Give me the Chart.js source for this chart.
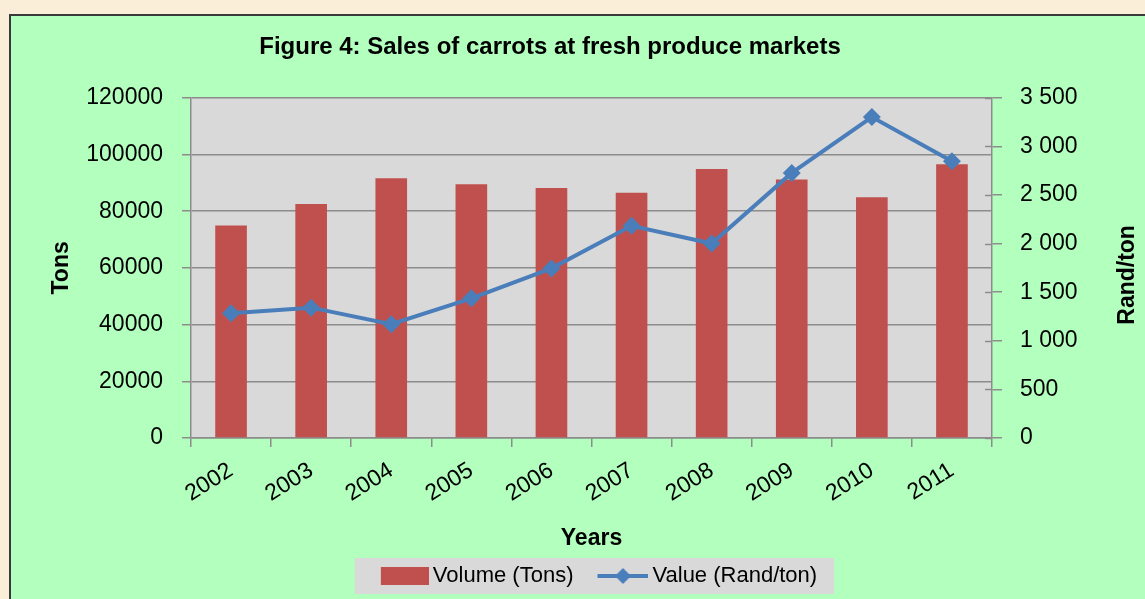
<!DOCTYPE html>
<html>
<head>
<meta charset="utf-8">
<script src="https://cdn.jsdelivr.net/npm/chart.js@4/dist/chart.umd.min.js"></script>
<style>
  html, body { margin: 0; padding: 0; width: 1145px; height: 599px; overflow: hidden; background: #fbeed9; }
  #frame { position: absolute; left: 9px; top: 14px; width: 1200px; height: 650px; border: 2px solid #3a3a3a; background: #b3ffbe; }
  #c { position: absolute; left: 0; top: 0; }
</style>
</head>
<body>
<div id="frame"></div>
<canvas id="c" width="1145" height="599"></canvas>
<script>
const years = ['2002','2003','2004','2005','2006','2007','2008','2009','2010','2011'];
const volumeTons = [75000, 82500, 91600, 89500, 88200, 86500, 94900, 91200, 84900, 96600];
const valueRandPerTon = [1283, 1341, 1170, 1437, 1745, 2183, 2001, 2727, 3302, 2847];
const leftTicks = [0, 20000, 40000, 60000, 80000, 100000, 120000];
const rightTicks = [0, 500, 1000, 1500, 2000, 2500, 3000, 3500];

const FONT = "'Liberation Sans', Arial, sans-serif";
const RED = '#c0504d';
const BLUE = '#4a7ebb';
const GRID = '#8c8c8c';

function makeImg(w, h, draw) {
  const cv = document.createElement('canvas');
  cv.width = w; cv.height = h;
  draw(cv.getContext('2d'));
  return cv;
}
// legend swatches: drawn in the right part of a 70px wide image so they sit close to the text
const barImg = makeImg(70, 18, g => { g.fillStyle = RED; g.fillRect(22, 0, 48, 18); });
const lineImg = makeImg(70, 18, g => {
  g.strokeStyle = BLUE; g.lineWidth = 4;
  g.beginPath(); g.moveTo(19, 9); g.lineTo(70, 9); g.stroke();
  g.fillStyle = BLUE;
  g.beginPath(); g.moveTo(44.5, 1); g.lineTo(52.5, 9); g.lineTo(44.5, 17); g.lineTo(36.5, 9); g.closePath(); g.fill();
});

const decor = {
  id: 'decor',
  afterLayout(chart) {
    const tb = chart.titleBlock;
    if (tb) { tb.left = 550 - 450; tb.right = 550 + 450; }
  },
  beforeDraw(chart) {
    const ctx = chart.ctx, a = chart.chartArea;
    ctx.save();
    ctx.fillStyle = '#d9d9d9';
    ctx.fillRect(a.left, a.top, a.right - a.left, a.bottom - a.top);
    const hb = chart.legend && chart.legend.legendHitBoxes;
    if (hb && hb.length) {
      const l = hb[0].left + 15 - 26, r = hb[hb.length - 1].left + hb[hb.length - 1].width + 17;
      const t = hb[0].top - 7;
      ctx.fillRect(l, t, r - l, 36);
    }
    ctx.restore();
  },
  afterDraw(chart) {
    const s = chart.scales.y1, t = s.options.title;
    const ctx = chart.ctx, a = chart.chartArea;
    ctx.save();
    // inner half of the right-axis tick marks (they cross the axis line)
    ctx.strokeStyle = GRID; ctx.lineWidth = 1.5;
    s.ticks.forEach(tk => {
      const y = Math.round(s.getPixelForValue(tk.value)) + 0.5;
      ctx.beginPath(); ctx.moveTo(a.right - 7, y); ctx.lineTo(a.right, y); ctx.stroke();
    });
    ctx.translate(s.right - 17, (a.top + a.bottom) / 2 + 7);
    ctx.rotate(-Math.PI / 2);
    ctx.font = 'bold 23px ' + FONT;
    ctx.fillStyle = '#000';
    ctx.textAlign = 'center';
    ctx.textBaseline = 'middle';
    ctx.fillText(t.text, 0, 0);
    ctx.restore();
  }
};

new Chart(document.getElementById('c'), {
  data: {
    labels: years,
    datasets: [
      {
        type: 'line', label: 'Value (Rand/ton)', data: valueRandPerTon, yAxisID: 'y1',
        borderColor: BLUE, backgroundColor: BLUE, borderWidth: 4,
        pointStyle: 'rectRot', pointRadius: 9, pointHoverRadius: 9,
        pointBackgroundColor: BLUE, pointBorderColor: BLUE, pointBorderWidth: 0, tension: 0, order: 0
      },
      {
        type: 'bar', label: 'Volume (Tons)', data: volumeTons, yAxisID: 'y',
        backgroundColor: RED, borderWidth: 0,
        categoryPercentage: 1, barPercentage: 0.395, order: 1
      }
    ]
  },
  options: {
    responsive: false,
    animation: false,
    devicePixelRatio: 1,
    layout: { padding: { left: 12, right: 0, top: 18, bottom: 2 } },
    plugins: {
      tooltip: { enabled: false },
      title: {
        display: true,
        text: 'Figure 4: Sales of carrots at fresh produce markets',
        color: '#000',
        font: { family: FONT, size: 24, weight: 'bold' },
        padding: { top: 15, bottom: 36 }
      },
      legend: {
        position: 'bottom',
        fullSize: false,
        reverse: true,
        labels: {
          color: '#000',
          font: { family: FONT, size: 22 },
          padding: 12,
          usePointStyle: true,
          pointStyleWidth: 56,
          boxHeight: 18,
          generateLabels(chart) {
            const items = Chart.defaults.plugins.legend.labels.generateLabels(chart);
            items.forEach(it => {
              it.pointStyle = chart.data.datasets[it.datasetIndex].type === 'bar' ? barImg : lineImg;
            });
            return items;
          }
        }
      }
    },
    scales: {
      x: {
        type: 'category',
        offset: true,
        grid: { display: true, offset: true, drawOnChartArea: false, drawTicks: true, tickLength: 9, color: GRID, lineWidth: 1.5 },
        border: { display: true, color: GRID, width: 1.5 },
        ticks: { color: '#000', font: { family: FONT, size: 23 }, minRotation: 32, maxRotation: 32, padding: 10, autoSkip: false },
        title: { display: true, text: 'Years', color: '#000', font: { family: FONT, size: 23, weight: 'bold' }, padding: { top: 0, bottom: 1 } },
        afterFit(s) { s.height = 115; }
      },
      y: {
        type: 'linear', position: 'left', min: 0, max: 120000,
        afterBuildTicks(s) { s.ticks = leftTicks.map(v => ({ value: v })); },
        grid: { color: GRID, lineWidth: 1.5, tickLength: 9 },
        border: { display: true, color: GRID, width: 1.5 },
        ticks: { color: '#000', font: { family: FONT, size: 23 }, padding: 19, callback: v => String(v) },
        title: { display: true, text: 'Tons', color: '#000', font: { family: FONT, size: 23, weight: 'bold' }, padding: { top: 36, bottom: 0 } },
        afterFit(s) { s.width = 179; }
      },
      y1: {
        type: 'linear', position: 'right', min: 0, max: 3500,
        afterBuildTicks(s) { s.ticks = rightTicks.map(v => ({ value: v })); },
        grid: { drawOnChartArea: false, color: GRID, lineWidth: 1.5, tickLength: 10 },
        border: { display: true, color: GRID, width: 1.5 },
        ticks: { color: '#000', font: { family: FONT, size: 23 }, padding: 18,
                 callback: v => String(v).replace(/\B(?=(\d{3})+(?!\d))/g, ' ') },
        title: { display: false, text: 'Rand/ton' },
        afterFit(s) { s.width = 153; }
      }
    }
  },
  plugins: [decor]
});
</script>
</body>
</html>
